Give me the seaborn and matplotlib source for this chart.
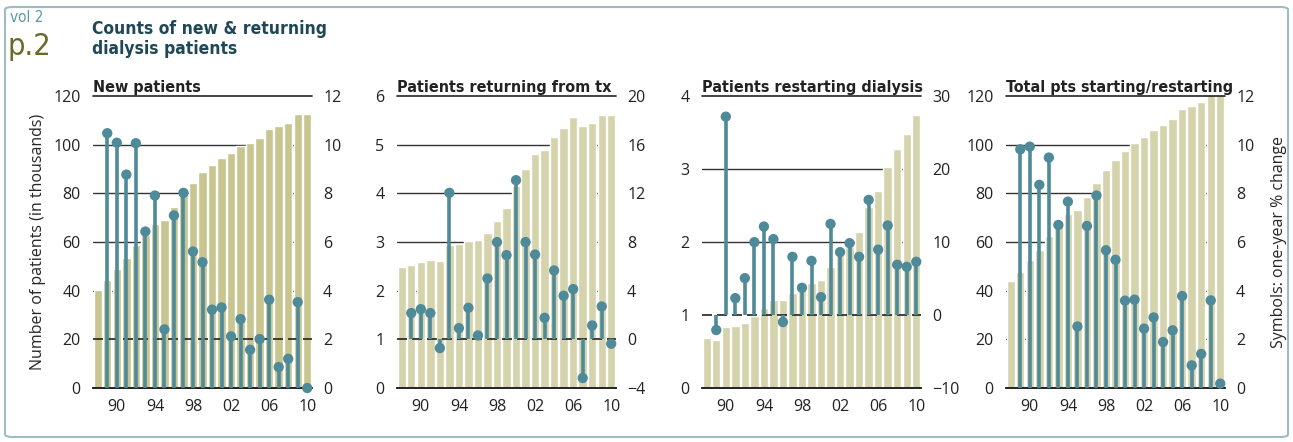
import matplotlib
matplotlib.use("Agg")
import matplotlib.pyplot as plt
from matplotlib.patches import FancyBboxPatch
import seaborn as sns
import numpy as np

# years 1988-2010, one bar per year
years = list(range(1988, 2011))
tick_years = [1990, 1994, 1998, 2002, 2006, 2010]
tick_labels = ["90", "94", "98", "02", "06", "10"]

# counts, in thousands
new_pts = [40.4, 44.5, 49.0, 53.5, 58.8, 62.7, 67.5, 69.1, 74.2, 79.9, 84.3, 88.8,
           91.7, 94.6, 96.6, 99.6, 100.8, 102.8, 106.5, 107.7, 108.9, 112.6, 112.6]
returning_tx = [2.48, 2.52, 2.58, 2.63, 2.61, 2.93, 2.95, 3.02, 3.04, 3.19, 3.44, 3.69,
                4.15, 4.51, 4.81, 4.90, 5.16, 5.34, 5.57, 5.39, 5.45, 5.60, 5.60]
restarting = [0.68, 0.66, 0.83, 0.85, 0.89, 0.99, 1.10, 1.21, 1.21, 1.30, 1.34, 1.44,
              1.48, 1.66, 1.82, 1.93, 2.14, 2.48, 2.70, 3.03, 3.27, 3.48, 3.74]
total_pts = [43.8, 47.8, 52.7, 56.8, 62.3, 67.3, 71.7, 73.2, 78.3, 84.3, 89.4, 93.7,
             97.2, 100.8, 103.2, 106.0, 108.2, 110.6, 114.7, 115.9, 117.5, 121.0, 121.0]

# one-year % change, 1989-2010
new_chg = [10.47, 10.08, 8.77, 10.06, 6.43, 7.91, 2.41, 7.09, 8.02, 5.61, 5.17,
           3.22, 3.31, 2.12, 2.83, 1.57, 2.01, 3.63, 0.86, 1.20, 3.53, 0.0]
returning_chg = [2.16, 2.48, 2.16, -0.72, 12.04, 0.92, 2.59, 0.32, 5.0, 7.99, 6.92,
                 13.08, 7.99, 6.97, 1.77, 5.66, 3.58, 4.13, -3.18, 1.14, 2.70, -0.36]
restarting_chg = [-2.06, 27.17, 2.31, 5.05, 9.98, 12.12, 10.39, -0.97, 7.97, 3.73, 7.42,
                  2.45, 12.48, 8.61, 9.84, 7.97, 15.77, 8.96, 12.26, 6.88, 6.60, 7.29]
total_chg = [9.81, 9.92, 8.35, 9.47, 6.70, 7.66, 2.53, 6.66, 7.91, 5.66, 5.27,
             3.59, 3.63, 2.44, 2.90, 1.89, 2.37, 3.78, 0.93, 1.40, 3.60, 0.18]

titles = ["New patients", "Patients returning from tx",
          "Patients restarting dialysis", "Total pts starting/restarting"]
left_ticks = [list(range(0, 121, 20)), list(range(0, 7)), list(range(0, 5)), list(range(0, 121, 20))]
right_ticks = [list(range(0, 13, 2)), list(range(-4, 21, 4)), list(range(-10, 31, 10)), list(range(0, 13, 2))]
dashed_at = [20, 1, 1, None]

bar_vals = [new_pts, returning_tx, restarting, total_pts]
chg_vals = [new_chg, returning_chg, restarting_chg, total_chg]
bar_colors = ["#c8c590", "#d5d3ab", "#d5d3ab", "#d5d3ab"]

stem_color = "#4e8a98"
title_color = "#1f4756"
narrow = dict(family="DejaVu Sans", stretch="condensed")

sns.set_style("white")
plt.rcParams["font.family"] = ["Open Sans", "DejaVu Sans"]

fig = plt.figure(figsize=(12.93, 4.42), dpi=100)

lefts = [93, 397, 702, 1006]
W, H = 1293, 442
for i in range(4):
    ax = fig.add_axes([lefts[i] / W, 1 - 388 / H, 219 / W, 292 / H])
    ax2 = ax.twinx()

    ylo, yhi = left_ticks[i][0], left_ticks[i][-1]
    for t in left_ticks[i][1:-1]:
        if t != dashed_at[i]:
            ax.axhline(t, color="#333333", lw=1.0, zorder=0)
    sns.barplot(x=years, y=bar_vals[i], ax=ax, color=bar_colors[i], width=0.88,
                saturation=1, zorder=1)
    ax.axhline(yhi, color="#222222", lw=1.2, zorder=4, clip_on=False)
    if dashed_at[i] is not None:
        ax.axhline(dashed_at[i], color="#222222", lw=1.2, ls=(0, (6, 3)), zorder=5)
    ax.set_ylim(ylo, yhi)
    ax.set_xlim(-0.5, len(years) - 0.5)
    ax.set_yticks(left_ticks[i])
    ax.set_xticks([years.index(y) for y in tick_years])
    ax.set_xticklabels(tick_labels)
    ax.tick_params(axis="both", length=0, labelsize=11.5, colors="#222222")
    ax.tick_params(axis="y", pad=9)
    ax.tick_params(axis="x", pad=8)

    # stems on the % change axis
    xs = np.arange(1, len(years))
    ax2.vlines(xs, 0, chg_vals[i], color=stem_color, lw=2.6, zorder=3)
    sns.scatterplot(x=xs, y=chg_vals[i], ax=ax2, color=stem_color, s=55,
                    edgecolor="none", zorder=4, clip_on=False)
    ax2.set_ylim(right_ticks[i][0], right_ticks[i][-1])
    ax2.set_yticks(right_ticks[i])
    ax2.tick_params(axis="y", length=0, labelsize=11.5, pad=8, colors="#222222")

    for a in (ax, ax2):
        for s in ["top", "left", "right"]:
            a.spines[s].set_visible(False)
        a.spines["bottom"].set_color("#222222")
        a.spines["bottom"].set_linewidth(1.2)
        a.set_xlabel("")
        a.set_ylabel("")
    ax.set_title(titles[i], loc="left", pad=3, fontsize=11.5, fontweight="bold",
                 color="#222222", **narrow)

    if i == 0:
        ax.set_ylabel("Number of patients (in thousands)", fontsize=11.5, labelpad=5)
    if i == 3:
        ax2.set_ylabel("Symbols: one-year % change", fontsize=11.5, labelpad=12)

# header
fig.text(10 / W, 1 - 22 / H, "vol 2", fontsize=11, color="#5a9aa8", **narrow)
fig.text(8 / W, 1 - 55 / H, "p.2", fontsize=22, color="#6b6a2a", **narrow)
fig.text(92 / W, 1 - 54 / H, "Counts of new & returning\ndialysis patients", fontsize=12.5,
         fontweight="bold", color=title_color, linespacing=1.15, **narrow)

# page frame
frame = FancyBboxPatch((5 / W, 5 / H), 1283 / W, 430 / H, boxstyle="round,pad=0,rounding_size=0.006",
                       transform=fig.transFigure, fill=False, edgecolor="#9dbcc6", lw=1.5)
fig.patches.append(frame)

fig.savefig("out.png", dpi=100)
